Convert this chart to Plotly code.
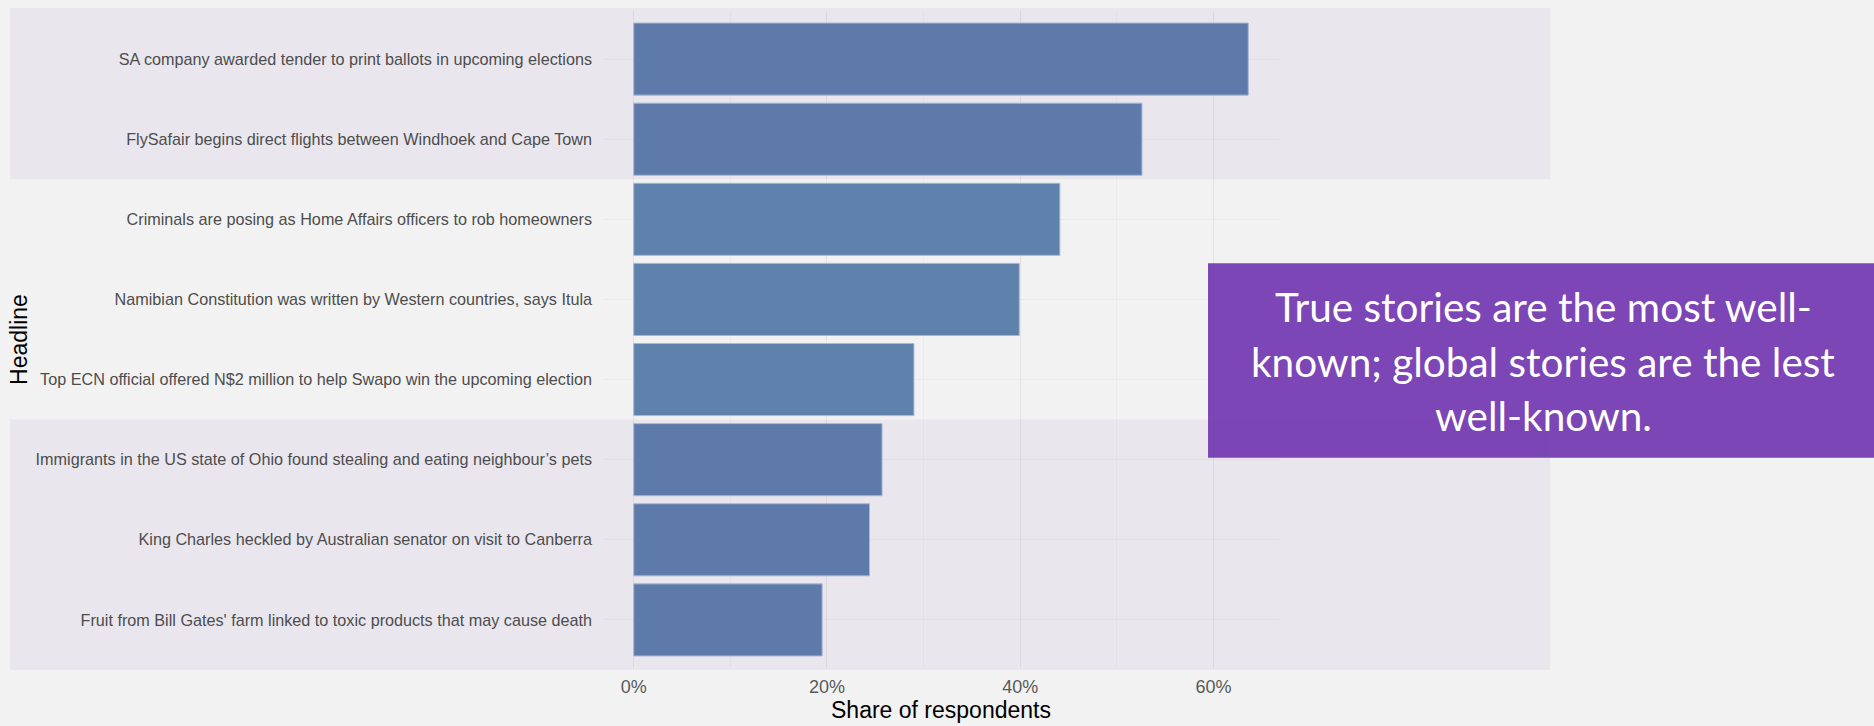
import plotly.graph_objects as go

# ---------------- data ----------------
headlines = [
    "SA company awarded tender to print ballots in upcoming elections",
    "FlySafair begins direct flights between Windhoek and Cape Town",
    "Criminals are posing as Home Affairs officers to rob homeowners",
    "Namibian Constitution was written by Western countries, says Itula",
    "Top ECN official offered N$2 million to help Swapo win the upcoming election",
    "Immigrants in the US state of Ohio found stealing and eating neighbour\u2019s pets",
    "King Charles heckled by Australian senator on visit to Canberra",
    "Fruit from Bill Gates' farm linked to toxic products that may cause death",
]
shares = [63.6, 52.6, 44.1, 39.9, 29.0, 25.7, 24.4, 19.5]
groups = ["True", "True", "Local", "Local", "Local", "Global", "Global", "Global"]
x_tick_vals = [0, 20, 40, 60]
x_tick_text = ["0%", "20%", "40%", "60%"]
note_lines = [
    "True stories are the most well-",
    "known; global stories are the lest",
    "well-known.",
]

# ---------------- styling ----------------
group_colors = {"True": "#5E7AAA", "Local": "#5F82AC", "Global": "#5E7AAA"}
band_groups = {"True": "#E9E6EE", "Global": "#E9E6EE"}
PAGE = "#F2F2F2"

n = len(headlines)
y_lo, y_hi = -0.6, n - 1 + 0.6
xmax = max(shares)
x_range = [-0.05 * xmax, xmax * 1.05]

fig = go.Figure()
fig.add_trace(go.Bar(
    x=shares,
    y=headlines,
    orientation="h",
    marker=dict(color=[group_colors[g] for g in groups],
                line=dict(color="#A9B7D2", width=1)),
    width=0.9,
    hoverinfo="x+y",
    showlegend=False,
))

def ypaper(v):
    # category index v (0 = top) to paper coordinate
    return (y_hi - v) / (y_hi - y_lo)

shapes = []
for g, col in band_groups.items():
    idx = [i for i, gg in enumerate(groups) if gg == g]
    top = ypaper(min(idx) - 0.5)
    bot = ypaper(max(idx) + 0.5)
    if min(idx) == 0:
        top = 1.0046
    if max(idx) == n - 1:
        bot = -0.003
    shapes.append(dict(type="rect", xref="paper", yref="paper",
                       x0=-0.877, x1=1.401, y0=bot, y1=top,
                       fillcolor=col, line=dict(width=0), layer="below"))

# note box
shapes.append(dict(type="rect", xref="paper", yref="paper",
                   x0=0.895, x1=1.90, y0=0.320, y1=0.616,
                   fillcolor="rgba(103,40,172,0.85)", line=dict(width=0),
                   layer="above"))

annotations = []
line_y = [0.5495, 0.4666, 0.385]
for txt, yy in zip(note_lines, line_y):
    annotations.append(dict(text=txt, xref="paper", yref="paper",
                            x=1.391, y=yy, xanchor="center", yanchor="middle",
                            showarrow=False,
                            font=dict(family="Lato", size=40.5, color="white")))

fig.update_layout(
    width=1874, height=726,
    margin=dict(l=603, r=595, t=11, b=56, pad=0),
    paper_bgcolor=PAGE,
    plot_bgcolor="rgba(0,0,0,0)",
    shapes=shapes,
    annotations=annotations,
    bargap=0.1,
    font=dict(family="Liberation Sans, Arial, sans-serif"),
)

fig.update_xaxes(
    range=x_range,
    tickvals=x_tick_vals, ticktext=x_tick_text,
    tickfont=dict(size=18, color="#595959"),
    showgrid=True, gridcolor="rgba(0,0,0,0.035)", gridwidth=1.3,
    minor=dict(dtick=10, tick0=0, showgrid=True,
               gridcolor="rgba(0,0,0,0.025)", gridwidth=0.8),
    zeroline=False, showline=False, ticks="",
    ticklabelstandoff=6,
    title=dict(text="Share of respondents", standoff=2,
               font=dict(size=23, color="black")),
)
fig.update_yaxes(
    range=[y_hi, y_lo],
    categoryorder="array", categoryarray=headlines,
    tickfont=dict(size=16.2, color="#4D4D4D"),
    showgrid=True, gridcolor="rgba(0,0,0,0.035)", gridwidth=1.3,
    zeroline=False, showline=False, ticks="",
    ticklabelstandoff=10,
    title=dict(text="Headline", standoff=1,
               font=dict(size=23, color="black")),
)

fig.write_html("out.html",
               config={"displayModeBar": False},
               post_script="document.body.style.margin='0';document.body.style.overflow='hidden';")
